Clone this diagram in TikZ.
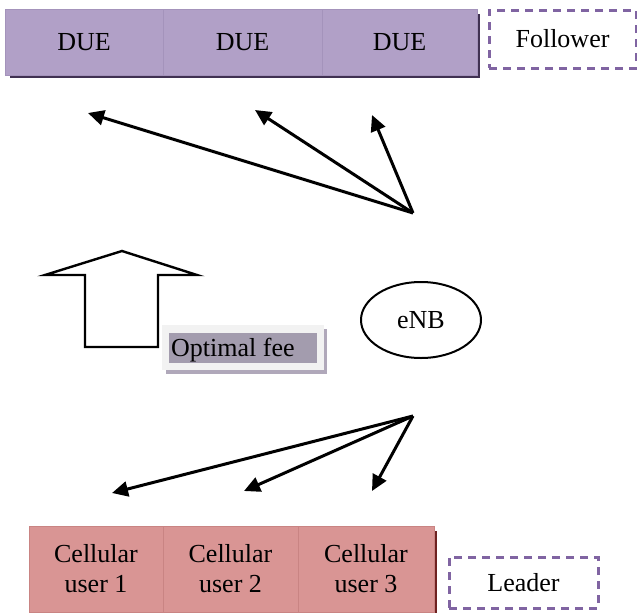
\documentclass[tikz,border=0pt]{standalone}
\usepackage{fontspec}
\setmainfont{Liberation Serif}
\usetikzlibrary{arrows.meta,shapes.geometric}
\definecolor{duefill}{HTML}{B1A0C7}
\definecolor{dueline}{HTML}{A493BB}
\definecolor{dueshadow}{HTML}{403152}
\definecolor{cellfill}{HTML}{D99594}
\definecolor{cellline}{HTML}{C98483}
\definecolor{cellshadow}{HTML}{6E2221}
\definecolor{dashcol}{HTML}{8064A2}
\definecolor{feeouter}{HTML}{F2F2F2}
\definecolor{feeshadow}{HTML}{B0A8BA}
\definecolor{feeinner}{HTML}{A39CAE}
\begin{document}
\begin{tikzpicture}[x=1pt,y=-1pt,
  every node/.style={font=\fontsize{26}{30}\selectfont, inner sep=0pt},
  duebox/.style={rectangle, fill=duefill, draw=dueline, line width=0.6pt, minimum height=66pt},
  cellbox/.style={rectangle, fill=cellfill, draw=cellline, line width=0.6pt, minimum height=86pt, align=center},
  rolebox/.style={rectangle, draw=dashcol, line width=3pt, dash pattern=on 8pt off 6pt},
  conn/.style={line width=3pt, -{Triangle[length=16pt,width=15pt]}}
]
\useasboundingbox (0,0) rectangle (637,613);

% top bar shadow
\fill[dueshadow] (10,75) rectangle (480,78);
\fill[dueshadow] (477,14) rectangle (480,78);
\node[duebox, minimum width=158pt] (d1) at (84,42) {DUE};
\node[duebox, minimum width=159pt] (d2) at (242.5,42) {DUE};
\node[duebox, minimum width=155pt] (d3) at (399.5,42) {DUE};
\node[rolebox, minimum width=147pt, minimum height=58pt] (fol) at (562.5,39) {Follower};

% bottom bar
\fill[cellshadow] (434,531) rectangle (437,613);
\node[cellbox, minimum width=134pt] (c1) at (96,569) {Cellular\\user 1};
\node[cellbox, minimum width=135pt] (c2) at (230.5,569) {Cellular\\user 2};
\node[cellbox, minimum width=136pt] (c3) at (366,569) {Cellular\\user 3};
\node[rolebox, minimum width=149pt, minimum height=51pt] (lead) at (523.5,582.5) {Leader};

% eNB
\node[ellipse, draw, line width=2pt, minimum width=120pt, minimum height=76pt] (enb) at (421,320) {eNB};

% big up arrow
\draw[line width=2.4pt, line join=miter] (122,251) -- (197,275) -- (158,275) -- (158,347) -- (85,347) -- (85,275) -- (45,275) -- cycle;

% optimal fee
\fill[feeshadow] (166,329) rectangle (327,374);
\node[rectangle, fill=feeouter, minimum width=162pt, minimum height=45pt] (feeout) at (243,347.5) {};
\node[rectangle, fill=feeinner, minimum width=148pt, minimum height=30pt] (fee) at (243,348) {};
\node[anchor=base west] (feetext) at (171,356) {Optimal fee};

% connectors
\coordinate (s1) at (413,213);
\coordinate (s2) at (413,416);
\coordinate (t1) at (88,113);
\coordinate (t2) at (255,110);
\coordinate (t3) at (372,115);
\coordinate (b1) at (112,493);
\coordinate (b2) at (244,491);
\coordinate (b3) at (372,491);
\draw[conn] (s1) -- (t1);
\draw[conn] (s1) -- (t2);
\draw[conn] (s1) -- (t3);
\draw[conn] (s2) -- (b1);
\draw[conn] (s2) -- (b2);
\draw[conn] (s2) -- (b3);
\end{tikzpicture}
\end{document}
